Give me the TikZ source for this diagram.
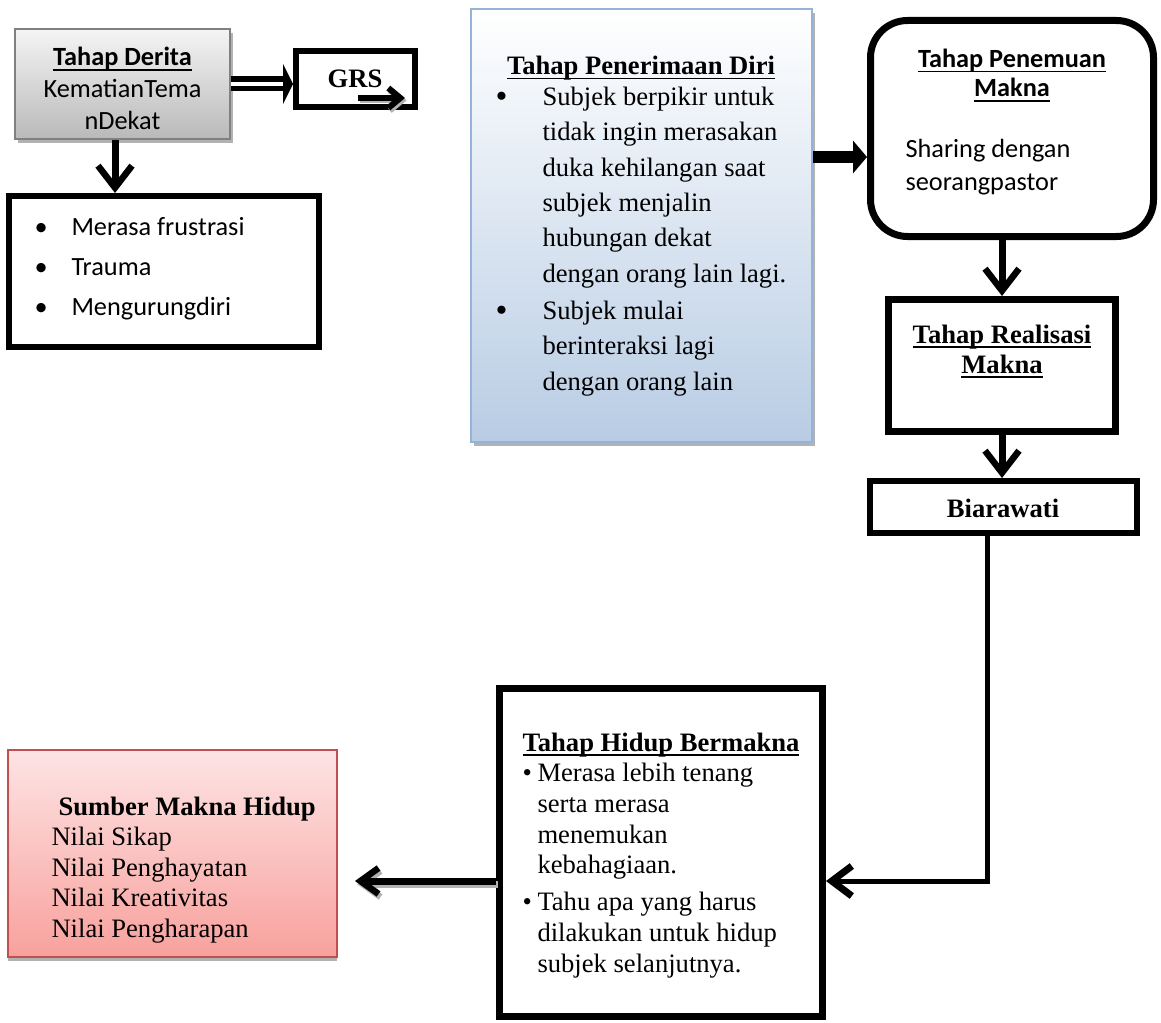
\documentclass[tikz,border=0pt]{standalone}
\usepackage{fontspec}
\setmainfont{Liberation Serif}
\newfontfamily\calibri{Carlito}
\usetikzlibrary{arrows.meta,fit,shadows}

\definecolor{bluebot}{HTML}{B8CCE4}
\definecolor{blueline}{HTML}{95B3D7}
\definecolor{pinktop}{HTML}{FDE4E4}
\definecolor{pinkbot}{HTML}{F8A19D}
\definecolor{pinkline}{HTML}{C0504D}

\newcommand\undl[1]{\setbox0\hbox{#1}\rlap{\rule[-4.5pt]{\wd0}{1.8pt}}\box0}
\newcommand\bul[1]{\makebox[#1][l]{\textbullet}}
\newcommand\bigbul[1]{\makebox[#1][l]{\raisebox{-2pt}{\fontsize{34}{34}\selectfont\textbullet}}}

\tikzset{
  blackbox/.style={draw=black, line width=6pt, inner sep=0pt},
  greybox/.style={draw=gray, line width=2pt, inner sep=0pt, top color=gray!8, bottom color=gray!55,
    drop shadow={shadow xshift=3pt, shadow yshift=-4pt, fill=gray!60, opacity=1}},
  bluebox/.style={draw=blueline, line width=2pt, inner sep=0pt, top color=white, bottom color=bluebot,
    drop shadow={shadow xshift=3pt, shadow yshift=-4pt, fill=gray!60, opacity=1}},
  pinkbox/.style={draw=pinkline, line width=2pt, inner sep=0pt, top color=pinktop, bottom color=pinkbot,
    drop shadow={shadow xshift=0pt, shadow yshift=-4pt, fill=gray!60, opacity=1}},
  serif/.style={font=\fontsize{26.6}{#1}\selectfont},
  sans/.style={font=\calibri\fontsize{26.3}{#1}\selectfont},
  dblarrow/.style={line width=15pt, -{Triangle[length=10pt,width=40pt]}},
  fatarrow/.style={line width=12pt, -{Triangle[length=14pt,width=32pt]}},
  downarrow/.style={line width=7pt, -{Straight Barb[length=22pt,width=34pt,line width=6.5pt]}},
  thinarrow/.style={line width=5pt, -{Straight Barb[length=20pt,width=30pt,line width=7pt]}},
  backarrow/.style={line width=7pt, -{Straight Barb[length=18pt,width=26pt,line width=6.5pt]}}
}

\begin{document}
\begin{tikzpicture}[x=1pt,y=-1pt]
\fill[white] (0,0) rectangle (1161,1022);
\useasboundingbox (0,0) rectangle (1161,1022);

\node[greybox, fit={(15,29) (230,139)}] (derita) {};
\node[blackbox, fit={(296,51) (415,107)}] (grs) {};
\node[blackbox, fit={(9,196) (319,347)}] (items) {};
\node[bluebox, fit={(471,9) (812,442)}] (penerimaan) {};
\node[blackbox, line width=7pt, rounded corners=37pt, fit={(870.5,20.5) (1153.5,236.5)}] (penemuan) {};
\node[blackbox, line width=7pt, fit={(888.5,299.5) (1115.5,431.5)}] (realisasi) {};
\node[blackbox, fit={(870,481) (1137,533)}] (biarawati) {};
\node[blackbox, line width=7pt, fit={(499.5,688.5) (822.5,1016.5)}] (hidup) {};
\node[pinkbox, fit={(8,750) (337,957)}] (sumber) {};

\node[sans=31.5, anchor=base, align=center] (deritatext) at (122.5,129) {\undl{\textbf{Tahap Derita}}\\KematianTema\\nDekat};
\node[serif=30, anchor=base] (grstext) at (355,88) {\textbf{GRS}};
\node[sans=40, anchor=base west, align=left] (itemstext) at (31,315) {\bul{37pt}Merasa frustrasi\\\bul{37pt}Trauma\\\bul{37pt}Mengurungdiri};

\node[serif=35.4, anchor=base] (penerimaantitle) at (641,75) {\undl{\textbf{Tahap Penerimaan Diri}}};
\node[serif=35.4, anchor=base west, align=left] (penerimaantext) at (492,390) {\bigbul{47pt}Subjek berpikir untuk\\
\hspace*{47pt}tidak ingin merasakan\\
\hspace*{47pt}duka kehilangan saat\\
\hspace*{47pt}subjek menjalin\\
\hspace*{47pt}hubungan dekat\\
\hspace*{47pt}dengan orang lain lagi.\\[1.6pt]
\bigbul{47pt}Subjek mulai\\
\hspace*{47pt}berinteraksi lagi\\
\hspace*{47pt}dengan orang lain};

\node[sans=29, anchor=base, align=center] (penemuantitle) at (1012,97) {\undl{\textbf{Tahap Penemuan}}\\\undl{\textbf{Makna}}};
\node[sans=33, anchor=base west, align=left] (penemuantext) at (902,190) {Sharing dengan\\seorangpastor};

\node[serif=30, anchor=base, align=center] (realisasititle) at (1002,373) {\undl{\textbf{Tahap Realisasi}}\\\undl{\textbf{Makna}}};
\node[serif=30, anchor=base] (biarawatitext) at (1003,517) {\textbf{Biarawati}};

\node[serif=30.7, anchor=base west, align=left] (hiduptext) at (519,972) {\undl{\textbf{Tahap Hidup Bermakna}}\\
\bul{15pt}Merasa lebih tenang\\
\hspace*{15pt}serta merasa\\
\hspace*{15pt}menemukan\\
\hspace*{15pt}kebahagiaan.\\[6pt]
\bul{15pt}Tahu apa yang harus\\
\hspace*{15pt}dilakukan untuk hidup\\
\hspace*{15pt}subjek selanjutnya.};

\node[serif=30.5, anchor=base west, align=left] (sumbertext) at (48,937) {\hspace*{7pt}\textbf{Sumber Makna Hidup}\\Nilai Sikap\\Nilai Penghayatan\\Nilai Kreativitas\\Nilai Pengharapan};

\draw[dblarrow] (derita.east) -- (derita.east -| grs.west);
\draw[white, line width=4pt, shorten >=10pt] (derita.east) -- (derita.east -| grs.west);

\coordinate (grsa) at (358,98);
\coordinate (grsb) at (405,98);
\draw[gray!60, line width=6pt, -{Straight Barb[length=12pt,width=20pt,line width=6pt]}, transform canvas={xshift=1.5pt,yshift=-2.5pt}] (grsa) -- (grsb);
\draw[line width=6pt, -{Straight Barb[length=12pt,width=20pt,line width=6pt]}] (grsa) -- (grsb);

\coordinate (downx) at ([xshift=-7.5pt]derita.south);
\draw[downarrow] (downx) -- (downx |- items.north);

\coordinate (rightmid) at (0,157);
\draw[fatarrow] (penerimaan.east |- rightmid) -- (penemuan.west |- rightmid);

\draw[downarrow] (realisasi.north |- penemuan.south) -- (realisasi.north);
\draw[downarrow] (realisasi.south) -- (realisasi.south |- biarawati.north);

\coordinate (bend) at (987,881);
\draw[line width=5pt, line cap=rect] (biarawati.south -| bend) -- (bend);
\draw[thinarrow, line cap=rect] (bend) -- (hidup.east |- bend);

\coordinate (lefttip) at (355,881);
\draw[backarrow, gray!60, transform canvas={xshift=2pt,yshift=-3pt}] (hidup.west |- lefttip) -- (lefttip);
\draw[backarrow] (hidup.west |- lefttip) -- (lefttip);
\end{tikzpicture}
\end{document}
